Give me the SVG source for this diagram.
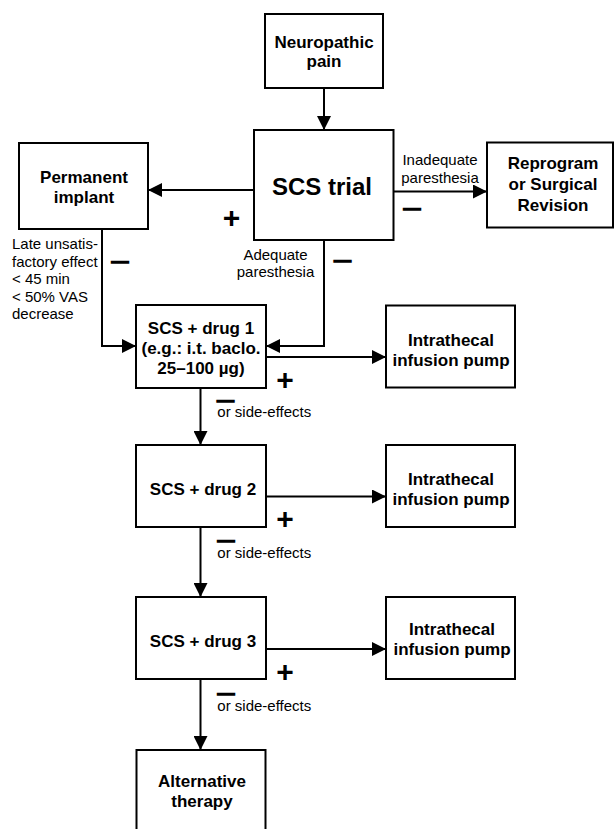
<svg xmlns="http://www.w3.org/2000/svg" width="614" height="829" viewBox="0 0 614 829">
<style>
.box{fill:#fff;stroke:#000;stroke-width:2}
.b{font-family:"Liberation Sans",Arial,sans-serif;font-weight:bold;font-size:17px;text-anchor:middle;fill:#000}
.r{font-family:"Liberation Sans",Arial,sans-serif;font-size:15px;fill:#000}
.m{text-anchor:middle}
.sign{font-family:"Liberation Sans",Arial,sans-serif;font-weight:bold;text-anchor:middle;fill:#000}
.minus{font-size:17px;stroke:#000;stroke-width:1.4}
.plus{font-size:30px}
.ln{fill:none;stroke:#000;stroke-width:2;marker-end:url(#ah)}
</style>
<defs>
<marker id="ah" markerUnits="userSpaceOnUse" markerWidth="14" markerHeight="14" refX="14" refY="7" orient="auto">
<path d="M0,0 L14,7 L0,14 z" fill="#000"/>
</marker>
</defs>
<rect width="614" height="829" fill="#fff"/>
<g id="connectors">
<path class="ln" d="M324,88 V130"/>
<path class="ln" d="M254,190 H148"/>
<path class="ln" d="M393.5,191.5 H487"/>
<path class="ln" d="M324,240 V346 H266"/>
<path class="ln" d="M102,229 V346 H136"/>
<path class="ln" d="M266,357 H386"/>
<path class="ln" d="M200.5,388 V445"/>
<path class="ln" d="M266,496.5 H386"/>
<path class="ln" d="M200.5,527 V597"/>
<path class="ln" d="M266,649 H386"/>
<path class="ln" d="M200.5,679 V750"/>
</g>
<g id="labels">
<text class="r m" x="440" y="165">Inadequate</text>
<text class="r m" x="440" y="183">paresthesia</text>
<text class="r m" x="275.5" y="259.5">Adequate</text>
<text class="r m" x="275.5" y="277">paresthesia</text>
<text class="r" x="12" y="249">Late unsatis-</text>
<text class="r" x="12" y="266.5">factory effect</text>
<text class="r" x="12" y="284">&lt; 45 min</text>
<text class="r" x="12" y="301.5">&lt; 50% VAS</text>
<text class="r" x="12" y="319">decrease</text>
<text class="r" x="217.3" y="417">or side-effects</text>
<text class="r" x="217.3" y="558">or side-effects</text>
<text class="r" x="217.3" y="711">or side-effects</text>
<text class="sign plus" x="231.5" y="228">+</text>
<text class="sign plus" x="285" y="390">+</text>
<text class="sign plus" x="285" y="529">+</text>
<text class="sign plus" x="285" y="681.5">+</text>
<text class="sign minus" x="412" y="213.6">—</text>
<text class="sign minus" x="120" y="266.9">—</text>
<text class="sign minus" x="342.5" y="265.6">—</text>
<text class="sign minus" x="225.5" y="406.3">—</text>
<text class="sign minus" x="226" y="546.3">—</text>
<text class="sign minus" x="226" y="698.9">—</text>
</g>
<g id="neuropathic">
<rect class="box" x="265" y="14" width="118" height="74"/>
<text class="b" x="324" y="47.5">Neuropathic</text>
<text class="b" x="324" y="67">pain</text>
</g>
<g id="scs-trial">
<rect class="box" x="254" y="130" width="139.5" height="110"/>
<text class="b" x="322" y="195" style="font-size:24px">SCS trial</text>
</g>
<g id="permanent">
<rect class="box" x="19" y="143" width="129" height="86"/>
<text class="b" x="84" y="183">Permanent</text>
<text class="b" x="84" y="202.5">implant</text>
</g>
<g id="reprogram">
<rect class="box" x="487" y="142.5" width="126" height="85"/>
<text class="b" x="553" y="169">Reprogram</text>
<text class="b" x="553" y="190">or Surgical</text>
<text class="b" x="553" y="211">Revision</text>
</g>
<g id="drug1">
<rect class="box" x="136" y="305" width="130" height="83"/>
<text class="b" x="201" y="334">SCS + drug 1</text>
<text class="b" x="201" y="354">(e.g.: i.t. baclo.</text>
<text class="b" x="201" y="374">25–100 µg)</text>
</g>
<g id="pump1">
<rect class="box" x="386" y="305.5" width="129" height="82"/>
<text class="b" x="451" y="346">Intrathecal</text>
<text class="b" x="451" y="365.5">infusion pump</text>
</g>
<g id="drug2">
<rect class="box" x="136" y="445" width="130" height="82"/>
<text class="b" x="203" y="495">SCS + drug 2</text>
</g>
<g id="pump2">
<rect class="box" x="386" y="445" width="129" height="82"/>
<text class="b" x="451" y="485">Intrathecal</text>
<text class="b" x="451" y="505">infusion pump</text>
</g>
<g id="drug3">
<rect class="box" x="136" y="597" width="130" height="82"/>
<text class="b" x="203" y="647">SCS + drug 3</text>
</g>
<g id="pump3">
<rect class="box" x="386" y="597" width="129" height="82"/>
<text class="b" x="452" y="635">Intrathecal</text>
<text class="b" x="452" y="655">infusion pump</text>
</g>
<g id="alternative">
<rect class="box" x="136.5" y="750" width="129" height="90"/>
<text class="b" x="202" y="787">Alternative</text>
<text class="b" x="202" y="807">therapy</text>
</g>
</svg>
